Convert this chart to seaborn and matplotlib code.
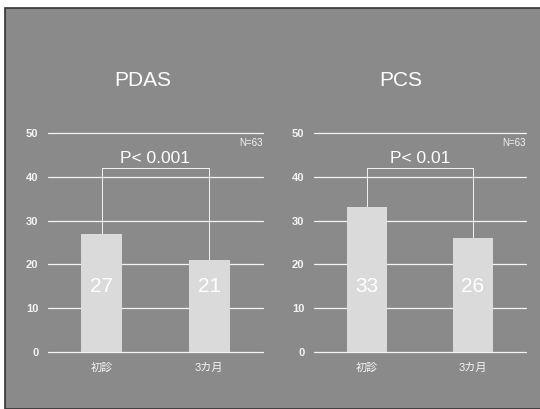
import matplotlib
matplotlib.use('Agg')
import matplotlib.pyplot as plt
import seaborn as sns
import pandas as pd
from matplotlib.patches import Rectangle

# Datos
categorias = ['初診', '3カ月']
pdas_vals = [27, 21]
pcs_vals = [33, 26]
titulos = ['PDAS', 'PCS']
p_textos = ['P< 0.001', 'P< 0.01']
n_texto = 'N=63'
y_ticks = [0, 10, 20, 30, 40, 50]

fondo = '#8a8a8a'
barra = '#dadada'
blanco = '#f4f4f4'

sns.set_style('dark', {'axes.facecolor': fondo})
plt.rcParams['font.family'] = ['Liberation Sans', 'Noto Sans CJK JP', 'DejaVu Sans']

fig = plt.figure(figsize=(5.4, 4.09), dpi=100)
fig.patch.set_facecolor('white')
# panel gris de fondo con borde oscuro
fig.patches.append(Rectangle((5 / 540, 0), 1, 1 - 8 / 409, transform=fig.transFigure,
                             facecolor=fondo, edgecolor='#333333', linewidth=1.2, zorder=-5))

posiciones = [[48 / 540, 57 / 409, 215 / 540, 219 / 409],
              [314 / 540, 57 / 409, 212 / 540, 219 / 409]]
titulo_x = [143 / 540, 401 / 540]

for pos, vals, titulo, ptxt, tx in zip(posiciones, [pdas_vals, pcs_vals], titulos, p_textos, titulo_x):
    ax = fig.add_axes(pos)
    ax.set_facecolor('none')
    df = pd.DataFrame({'cat': categorias, 'val': vals})
    sns.barplot(data=df, x='cat', y='val', color=barra, width=0.38, saturation=1,
                edgecolor='none', ax=ax, zorder=3)
    ax.set_xlim(-0.5, 1.5)
    ax.set_ylim(0, 50)
    ax.set_yticks(y_ticks)
    for yv in y_ticks:
        ax.axhline(yv, color=blanco, linewidth=0.9, zorder=1, clip_on=False)
    ax.grid(False)
    for s in ax.spines.values():
        s.set_visible(False)
    ax.tick_params(axis='y', colors=blanco, labelsize=8, length=0, pad=7)
    ax.tick_params(axis='x', colors=blanco, labelsize=8, length=0, pad=8)
    for lab in ax.get_yticklabels():
        lab.set_fontweight('bold')
    ax.set_xlabel('')
    ax.set_ylabel('')

    # etiquetas de valor
    for i, v in enumerate(vals):
        ax.text(i, 15, str(v), ha='center', va='center', color='white', fontsize=15, zorder=4)

    # corchete de significancia
    ax.plot([0, 0, 1, 1], [vals[0], 42, 42, vals[1]], color=blanco, linewidth=0.7, zorder=2)
    ax.text(0.5, 42.4, ptxt, ha='center', va='bottom', color='white', fontsize=12.5)
    ax.text(1.5, 47.7, n_texto, ha='right', va='center', color=blanco, fontsize=7)

    fig.text(tx, 1 - 80 / 409, titulo, ha='center', va='center', color='white', fontsize=15)

fig.savefig('out.png', dpi=100, facecolor=fig.get_facecolor())
